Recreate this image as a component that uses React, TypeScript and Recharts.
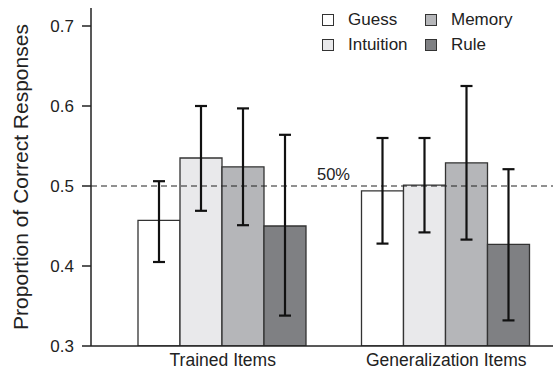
import { BarChart, Bar, XAxis, YAxis, ErrorBar, ReferenceLine } from 'recharts';

const categories = ['Trained Items', 'Generalization Items'];

const guess = [0.457, 0.494];
const intuition = [0.535, 0.501];
const memory = [0.524, 0.529];
const rule = [0.45, 0.427];

// error bar ends (lower, upper)
const guessLo = [0.405, 0.428];
const guessHi = [0.506, 0.56];
const intuitionLo = [0.469, 0.442];
const intuitionHi = [0.6, 0.56];
const memoryLo = [0.451, 0.433];
const memoryHi = [0.597, 0.625];
const ruleLo = [0.338, 0.332];
const ruleHi = [0.564, 0.521];

const yTicks = [0.3, 0.4, 0.5, 0.6, 0.7];

const SERIES = [
  { key: 'guess', name: 'Guess', color: '#ffffff', vals: guess, lo: guessLo, hi: guessHi },
  { key: 'intuition', name: 'Intuition', color: '#e9e9eb', vals: intuition, lo: intuitionLo, hi: intuitionHi },
  { key: 'memory', name: 'Memory', color: '#b5b6b9', vals: memory, lo: memoryLo, hi: memoryHi },
  { key: 'rule', name: 'Rule', color: '#7f8083', vals: rule, lo: ruleLo, hi: ruleHi },
];

const data = categories.map((c, i) => {
  const row: Record<string, any> = { name: c };
  SERIES.forEach((s) => {
    row[s.key] = s.vals[i];
    row[s.key + 'Err'] = [s.vals[i] - s.lo[i], s.hi[i] - s.vals[i]];
  });
  return row;
});

const FONT = 'Liberation Sans, Arial, sans-serif';

function LegendBox({ s }: { s: (typeof SERIES)[number] }) {
  return (
    <div style={{ display: 'flex', alignItems: 'center', height: 25 }}>
      <span
        style={{
          width: 12,
          height: 12,
          background: s.color,
          border: '1.3px solid #333',
          marginRight: 14,
          boxSizing: 'border-box',
        }}
      />
      <span>{s.name}</span>
    </div>
  );
}

export default function App() {
  const col1 = [SERIES[0], SERIES[1]];
  const col2 = [SERIES[2], SERIES[3]];
  return (
    <div style={{ position: 'absolute', left: 0, top: 0, width: 553, height: 375, overflow: 'hidden', background: '#fff' }}>
      <BarChart
        width={558}
        height={375}
        data={data}
        margin={{ top: 8, right: 0, bottom: 0, left: 0 }}
        barCategoryGap={27}
        barGap={0}
      >
        <XAxis
          dataKey="name"
          height={29}
          padding={{ left: 20, right: 0 }}
          tickLine={false}
          axisLine={{ stroke: '#222', strokeWidth: 1.5 }}
          tick={{ fill: '#222', fontSize: 17.5, fontFamily: FONT }}
          tickMargin={2}
        />
        <YAxis
          width={91}
          domain={[0.3, 0.7225]}
          ticks={yTicks}
          allowDataOverflow
          tickFormatter={(v: number) => v.toFixed(1)}
          tickSize={9}
          tickMargin={8}
          axisLine={{ stroke: '#222', strokeWidth: 1.5 }}
          tickLine={{ stroke: '#222', strokeWidth: 1.5 }}
          tick={{ fill: '#222', fontSize: 17, fontFamily: FONT }}
          label={{
            value: 'Proportion of Correct Responses',
            angle: -90,
            position: 'insideLeft',
            dx: 16,
            dy: 0,
            style: { textAnchor: 'middle', fill: '#222', fontSize: 21, fontFamily: FONT },
          }}
        />
        <ReferenceLine
          y={0.5}
          stroke="#222"
          strokeWidth={1.2}
          strokeDasharray="6 4"
          label={{ value: '50%', position: 'top', dx: 9, dy: -1, fill: '#222', fontSize: 16.5, fontFamily: FONT }}
        />
        {SERIES.map((s) => (
          <Bar
            key={s.key}
            dataKey={s.key}
            name={s.name}
            fill={s.color}
            stroke="#333"
            strokeWidth={1.3}
            isAnimationActive={false}
          >
            <ErrorBar dataKey={s.key + 'Err'} direction="y" width={6} stroke="#111" strokeWidth={2.2} />
          </Bar>
        ))}
      </BarChart>
      <div
        style={{
          position: 'absolute',
          left: 322,
          top: 7,
          display: 'flex',
          fontFamily: FONT,
          fontSize: 17,
          color: '#222',
        }}
      >
        <div style={{ width: 103 }}>
          {col1.map((s) => (
            <LegendBox key={s.key} s={s} />
          ))}
        </div>
        <div>
          {col2.map((s) => (
            <LegendBox key={s.key} s={s} />
          ))}
        </div>
      </div>
    </div>
  );
}
